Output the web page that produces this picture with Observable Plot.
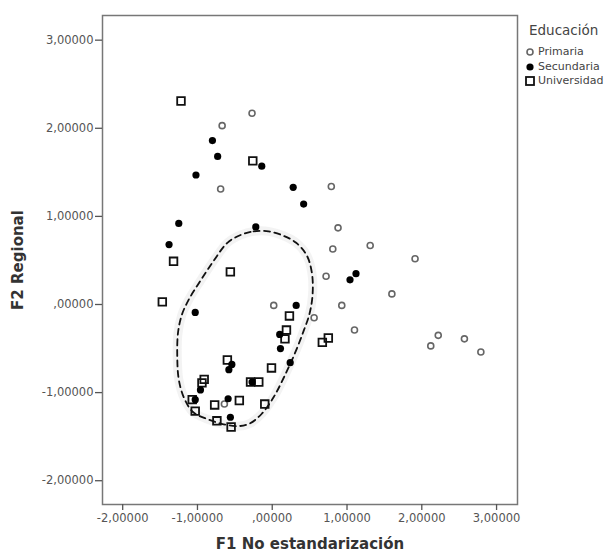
<!DOCTYPE html>
<html><head><meta charset="utf-8">
<script src="https://cdn.jsdelivr.net/npm/d3@7"></script>
<script src="https://cdn.jsdelivr.net/npm/@observablehq/plot@0.6"></script>
<style>
body{margin:0;background:#fff}
#chart{position:relative;width:608px;height:551px;font-family:"DejaVu Sans",sans-serif}
#legend{position:absolute;left:525px;top:22px;color:#444}
#legend .title{font-size:13.5px;margin-bottom:7px;margin-left:4px}
#legend .item{font-size:11px;height:14.5px;line-height:14.5px;display:flex;align-items:center;white-space:nowrap}
#legend svg{margin-right:3px}
</style>
</head><body>
<div id="chart"><div id="legend"></div></div>
<script>
// ---- data ----
const primariaX = [-0.27, -0.67, -0.69, 0.79, 0.88, 0.81, 1.31, 0.72, 1.91, 1.60, 0.02, 0.93, 0.56, 1.10, 2.22, 2.12, 2.57, 2.79, -0.64];
const primariaY = [2.17, 2.03, 1.31, 1.34, 0.87, 0.63, 0.67, 0.32, 0.52, 0.12, -0.01, -0.01, -0.15, -0.29, -0.35, -0.47, -0.39, -0.54, -1.13];

const secundariaX = [-0.80, -0.73, -0.14, -1.02, 0.28, 0.42, -1.25, -0.22, -1.38, 1.04, 1.12, -1.03, 0.32, 0.10, 0.11, 0.24, -0.54, -0.58, -0.96, -1.03, -0.59, -0.56, -0.27];
const secundariaY = [1.86, 1.68, 1.57, 1.47, 1.33, 1.14, 0.92, 0.88, 0.68, 0.28, 0.35, -0.09, -0.01, -0.34, -0.50, -0.66, -0.68, -0.74, -0.97, -1.08, -1.07, -1.28, -0.88];

const universidadX = [-1.22, -0.26, -1.32, -0.56, -1.47, 0.23, 0.19, 0.17, 0.75, 0.67, -0.60, -0.01, -0.91, -0.94, -0.29, -0.18, -1.07, -1.03, -0.77, -0.44, -0.10, -0.74, -0.55];
const universidadY = [2.31, 1.63, 0.49, 0.37, 0.03, -0.13, -0.29, -0.39, -0.38, -0.43, -0.63, -0.72, -0.85, -0.89, -0.88, -0.88, -1.08, -1.21, -1.14, -1.09, -1.13, -1.32, -1.39];

// dashed contour drawn by hand on the original
const contourX = [-0.42, -0.25, -0.05, 0.15, 0.32, 0.46, 0.53, 0.54, 0.50, 0.42, 0.30, 0.16, 0.02, -0.14, -0.30, -0.44, -0.65, -0.87, -1.06, -1.18, -1.25, -1.27, -1.26, -1.21, -1.12, -0.96, -0.78, -0.60];
const contourY = [0.79, 0.83, 0.83, 0.78, 0.70, 0.56, 0.36, 0.12, -0.10, -0.30, -0.56, -0.82, -1.05, -1.24, -1.35, -1.38, -1.36, -1.30, -1.22, -1.06, -0.85, -0.60, -0.32, -0.12, 0.05, 0.27, 0.50, 0.70];

const tickValues = [-2, -1, 0, 1, 2, 3];
const tickLabels = ["-2,00000", "-1,00000", ",00000", "1,00000", "2,00000", "3,00000"];
const domain = [-2.27, 3.28];
const legendLabels = ["Primaria", "Secundaria", "Universidad"];
const legendTitle = "Educación";
const xLabel = "F1 No estandarización";
const yLabel = "F2 Regional";

// ---- build ----
const toRows = (xs, ys) => xs.map((x, i) => ({x, y: ys[i]}));
const primaria = toRows(primariaX, primariaY);
const secundaria = toRows(secundariaX, secundariaY);
const universidad = toRows(universidadX, universidadY);
const contour = toRows(contourX, contourY);
const fmt = d => tickLabels[tickValues.indexOf(d)];

const plot = Plot.plot({
  width: 608,
  height: 551,
  marginLeft: 102,
  marginRight: 91,
  marginTop: 15,
  marginBottom: 47,
  style: {fontFamily: "DejaVu Sans, sans-serif", fontSize: "11.5px", color: "#555", background: "#fff"},
  x: {domain, ticks: tickValues, tickFormat: fmt, tickSize: 6, tickPadding: 3, label: null},
  y: {domain, ticks: tickValues, tickFormat: fmt, tickSize: 7, tickPadding: 2, label: null},
  marks: [
    Plot.line(contour, {x: "x", y: "y", curve: "catmull-rom-closed", stroke: "#999", strokeWidth: 9, strokeOpacity: 0.12}),
    Plot.line(contour, {x: "x", y: "y", curve: "catmull-rom-closed", stroke: "#111", strokeWidth: 1.8, strokeDasharray: "6,4.5"}),
    Plot.dot(primaria, {x: "x", y: "y", r: 3, stroke: "#666", strokeWidth: 1.6, fill: "#fff"}),
    Plot.dot(universidad, {x: "x", y: "y", symbol: "square", r: 4.3, stroke: "#111", strokeWidth: 1.8, fill: "none"}),
    Plot.dot(secundaria, {x: "x", y: "y", r: 3.6, fill: "#000", stroke: "none"}),
    Plot.frame({stroke: "#777", strokeWidth: 1.5}),
    Plot.axisX({ticks: tickValues, tickFormat: fmt, tickSize: 6, tickPadding: 3, label: null, stroke: "#555", strokeWidth: 1.3, fill: "#555"}),
    Plot.axisY({ticks: tickValues, tickFormat: fmt, tickSize: 7, tickPadding: 2, label: null, stroke: "#555", strokeWidth: 1.3, fill: "#555"}),
    Plot.text([xLabel], {frameAnchor: "bottom", dy: 44, textAnchor: "middle", text: d => d, fontSize: 15, fontWeight: "bold", fill: "#333"}),
    Plot.text([yLabel], {frameAnchor: "left", dx: -84, rotate: -90, textAnchor: "middle", text: d => d, fontSize: 15, fontWeight: "bold", fill: "#333"})
  ]
});
document.getElementById("chart").prepend(plot);

// legend
const leg = document.getElementById("legend");
const t = document.createElement("div"); t.className = "title"; t.textContent = legendTitle; leg.appendChild(t);
const swatches = [
  '<svg width="10" height="10"><circle cx="5" cy="5" r="3" fill="#fff" stroke="#666" stroke-width="1.6"/></svg>',
  '<svg width="10" height="10"><circle cx="5" cy="5" r="3.6" fill="#000"/></svg>',
  '<svg width="10" height="10"><rect x="1" y="1" width="8" height="8" fill="none" stroke="#111" stroke-width="1.8"/></svg>'
];
legendLabels.forEach((lab, i) => {
  const d = document.createElement("div"); d.className = "item";
  d.innerHTML = swatches[i] + "<span>" + lab + "</span>";
  leg.appendChild(d);
});
</script>
</body></html>
